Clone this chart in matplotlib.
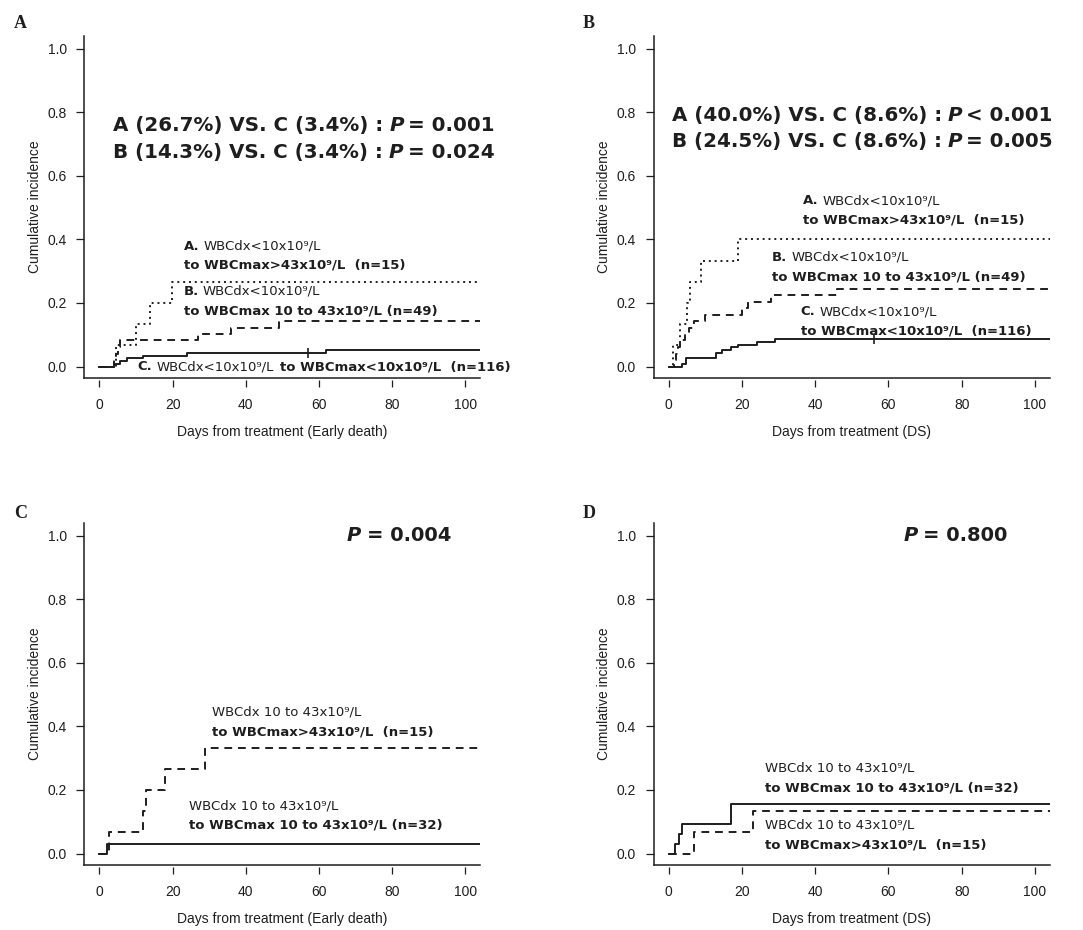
import matplotlib
matplotlib.use("Agg")
import matplotlib.pyplot as plt

INK = "#1e1e1e"
DAY_END = 104

# panel A: early death, WBCdx < 10x10^9/L
ed_a_days = [0, 4.6, 10, 13.7, 19.8]
ed_a_inc = [0, 0.067, 0.133, 0.200, 0.267]
ed_b_days = [0, 4, 4.5, 5, 5.5, 27, 36, 49]
ed_b_inc = [0, 0.020, 0.041, 0.061, 0.082, 0.102, 0.122, 0.143]
ed_c_days = [0, 4, 5.5, 7.5, 12, 24, 62]
ed_c_inc = [0, 0.009, 0.017, 0.026, 0.034, 0.043, 0.052]
ed_c_cens = [57]

# panel B: DS, WBCdx < 10x10^9/L
ds_a_days = [0, 1.2, 3, 5, 5.7, 8.9, 18.9]
ds_a_inc = [0, 0.067, 0.133, 0.200, 0.267, 0.333, 0.400]
ds_b_days = [0, 1.5, 2, 2.5, 3, 4.5, 5.5, 7, 10, 20, 21.5, 28, 46]
ds_b_inc = [0, 0.020, 0.041, 0.061, 0.082, 0.102, 0.122, 0.143, 0.163,
            0.184, 0.204, 0.224, 0.245]
ds_c_days = [0, 3.7, 4.8, 13, 14.5, 17, 19, 24, 29]
ds_c_inc = [0, 0.009, 0.026, 0.043, 0.052, 0.060, 0.069, 0.078, 0.086]
ds_c_cens = [56]

# panel C: early death, WBCdx 10 to 43x10^9/L
ed_hi_days = [0, 2.5, 11.9, 12.7, 17.8, 28.9]
ed_hi_inc = [0, 0.067, 0.133, 0.200, 0.267, 0.333]
ed_mid_days = [0, 2.1]
ed_mid_inc = [0, 0.031]

# panel D: DS, WBCdx 10 to 43x10^9/L
ds_mid_days = [0, 1.6, 2.7, 3.6, 17]
ds_mid_inc = [0, 0.031, 0.063, 0.094, 0.156]
ds_hi_days = [0, 6.9, 22.9]
ds_hi_inc = [0, 0.067, 0.133]

y_ticks = [0.0, 0.2, 0.4, 0.6, 0.8, 1.0]
x_ticks = [0, 20, 40, 60, 80, 100]

DOT = (0, (1, 2))
DASH = (0, (4, 3))
LAB_FONT = "DejaVu Sans"


def setup_axes(ax, xlabel):
    ax.set_xlim(-4.2, DAY_END)
    ax.set_ylim(-0.036, 1.04)
    for s in ["top", "right"]:
        ax.spines[s].set_visible(False)
    ax.spines["left"].set_linewidth(1.1)
    ax.spines["left"].set_color(INK)
    ax.spines["bottom"].set_color("none")
    ax.spines["bottom"].set_position(("outward", 1.5))
    ax.plot([0, 1], [0, 0], transform=ax.transAxes, color=INK, lw=1.1,
            clip_on=False, solid_capstyle="projecting")
    ax.set_xticks(x_ticks)
    ax.set_yticks(y_ticks)
    ax.set_yticklabels(["%.1f" % v for v in y_ticks])
    ax.tick_params(axis="x", length=5, width=0.9, color=INK, pad=8,
                   labelsize=10, labelcolor=INK)
    ax.tick_params(axis="y", length=5.5, width=0.9, color=INK, pad=7,
                   labelsize=10, labelcolor=INK)
    for lab in ax.get_xticklabels() + ax.get_yticklabels():
        lab.set_family("Liberation Sans")
    ax.set_xlabel(xlabel, family="Liberation Sans", fontsize=10, color=INK,
                  labelpad=9)
    ax.set_ylabel("Cumulative incidence", family="Liberation Sans",
                  fontsize=10, color=INK, labelpad=4)


def curve(ax, days, inc, ls, cens=None):
    ax.step(days + [DAY_END], inc + [inc[-1]], where="post", color=INK,
            lw=1.4, linestyle=ls)
    if cens:
        level = [inc[max(i for i, d in enumerate(days) if d <= c)] for c in cens]
        ax.plot(cens, level, linestyle="none", marker="|", ms=7, mew=1.2,
                color=INK)


def rich_text(ax, x, y, parts, size, family=LAB_FONT):
    # parts: (text, weight, style, gap before in points)
    t = None
    for s, w, st, gap in parts:
        kw = dict(fontsize=size, fontweight=w, fontstyle=st, family=family,
                  color=INK)
        if t is None:
            t = ax.text(x, y, s, va="center", ha="left", **kw)
        else:
            t = ax.annotate(s, xy=(1, 0), xycoords=t, xytext=(gap, 0),
                            textcoords="offset points", va="bottom",
                            ha="left", **kw)
    return t


def group_label(ax, x, y1, y2, head, first, second):
    parts = [(head, "bold", "normal", 0)] if head else []
    parts.append((first, "normal", "normal", 3))
    rich_text(ax, x, y1, parts, 9.5)
    rich_text(ax, x, y2, [(second, "bold", "normal", 0)], 9.5)


def stat_line(ax, x, y, left, sign, pval):
    rich_text(ax, x, y, [(left, "bold", "normal", 0),
                         ("P", "bold", "italic", 4),
                         (sign + " " + pval, "bold", "normal", 3)], 14.3)


fig = plt.figure(figsize=(10.83, 9.30), dpi=100)
W, H = 1083, 930
aw, ah = 396 / W, 342 / H
axA = fig.add_axes([84 / W, 1 - 378 / H, aw, ah])
axB = fig.add_axes([653.5 / W, 1 - 378 / H, aw, ah])
axC = fig.add_axes([84 / W, 1 - 865 / H, aw, ah])
axD = fig.add_axes([653.5 / W, 1 - 865 / H, aw, ah])

# A
setup_axes(axA, "Days from treatment (Early death)")
curve(axA, ed_a_days, ed_a_inc, DOT)
curve(axA, ed_b_days, ed_b_inc, DASH)
curve(axA, ed_c_days, ed_c_inc, "-", ed_c_cens)
stat_line(axA, 3.8, 0.758, "A (26.7%) VS. C (3.4%) :", "=", "0.001")
stat_line(axA, 3.8, 0.673, "B (14.3%) VS. C (3.4%) :", "=", "0.024")
group_label(axA, 23, 0.379, 0.318, "A.", "WBCdx<10x10⁹/L",
            "to WBCmax>43x10⁹/L  (n=15)")
group_label(axA, 23, 0.237, 0.176, "B.", "WBCdx<10x10⁹/L",
            "to WBCmax 10 to 43x10⁹/L (n=49)")
rich_text(axA, 10.5, 0.0, [("C.", "bold", "normal", 0),
                           ("WBCdx<10x10⁹/L", "normal", "normal", 3),
                           ("to WBCmax<10x10⁹/L  (n=116)", "bold", "normal", 4)], 9.5)

# B
setup_axes(axB, "Days from treatment (DS)")
curve(axB, ds_a_days, ds_a_inc, DOT)
curve(axB, ds_b_days, ds_b_inc, DASH)
curve(axB, ds_c_days, ds_c_inc, "-", ds_c_cens)
stat_line(axB, 0.8, 0.79, "A (40.0%) VS. C (8.6%) :", "<", "0.001")
stat_line(axB, 0.8, 0.708, "B (24.5%) VS. C (8.6%) :", "=", "0.005")
group_label(axB, 36.7, 0.521, 0.46, "A.", "WBCdx<10x10⁹/L",
            "to WBCmax>43x10⁹/L  (n=15)")
group_label(axB, 28.2, 0.344, 0.282, "B.", "WBCdx<10x10⁹/L",
            "to WBCmax 10 to 43x10⁹/L (n=49)")
group_label(axB, 36, 0.172, 0.113, "C.", "WBCdx<10x10⁹/L",
            "to WBCmax<10x10⁹/L  (n=116)")

# C
setup_axes(axC, "Days from treatment (Early death)")
curve(axC, ed_hi_days, ed_hi_inc, DASH)
curve(axC, ed_mid_days, ed_mid_inc, "-")
rich_text(axC, 67.6, 1.0, [("P", "bold", "italic", 0),
                           ("= 0.004", "bold", "normal", 4)], 14)
group_label(axC, 30.7, 0.446, 0.383, None, "WBCdx 10 to 43x10⁹/L",
            "to WBCmax>43x10⁹/L  (n=15)")
group_label(axC, 24.5, 0.151, 0.09, None, "WBCdx 10 to 43x10⁹/L",
            "to WBCmax 10 to 43x10⁹/L (n=32)")

# D
setup_axes(axD, "Days from treatment (DS)")
curve(axD, ds_mid_days, ds_mid_inc, "-")
curve(axD, ds_hi_days, ds_hi_inc, DASH)
rich_text(axD, 64, 1.0, [("P", "bold", "italic", 0),
                         ("= 0.800", "bold", "normal", 4)], 14)
group_label(axD, 26.3, 0.268, 0.205, None, "WBCdx 10 to 43x10⁹/L",
            "to WBCmax 10 to 43x10⁹/L (n=32)")
group_label(axD, 26.3, 0.091, 0.028, None, "WBCdx 10 to 43x10⁹/L",
            "to WBCmax>43x10⁹/L  (n=15)")

for letter, px, py in [("A", 14, 24), ("B", 583, 24), ("C", 14, 513), ("D", 583, 513)]:
    fig.text(px / W, 1 - py / H, letter, family="Liberation Serif",
             fontweight="bold", fontsize=13, va="center", ha="left", color=INK)

fig.savefig("out.png", dpi=100, facecolor="white")
